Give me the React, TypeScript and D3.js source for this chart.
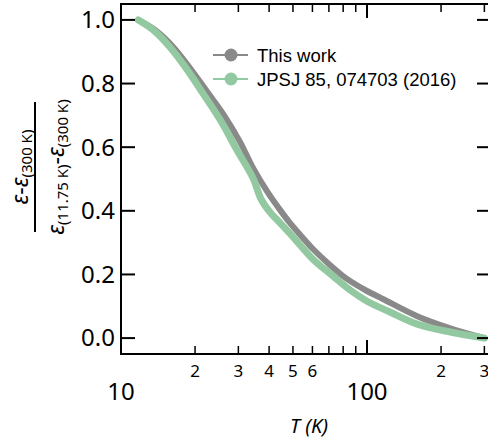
import React from "react";
import * as d3 from "d3";

const W = 488;
const H = 440;

// This work
const thisT = [11.75, 13.7, 16.3, 19.3, 22.6, 26.2, 30.5, 34.4, 39.2, 44.3, 48.6, 55.0, 60.3, 70.7, 82.9, 100, 116, 160, 218, 300];
const thisV = [1.0, 0.969, 0.915, 0.843, 0.77, 0.701, 0.616, 0.535, 0.462, 0.403, 0.362, 0.314, 0.28, 0.23, 0.186, 0.148, 0.123, 0.069, 0.031, 0.0];

// JPSJ 85, 074703 (2016)
const jpsjT = [11.75, 13.5, 15.8, 18.6, 21.5, 25.3, 29.6, 34.4, 37.1, 40.3, 44.3, 50.0, 60.3, 72.7, 85.3, 100, 124, 160, 218, 300];
const jpsjV = [1.0, 0.969, 0.915, 0.843, 0.77, 0.686, 0.591, 0.503, 0.437, 0.396, 0.362, 0.318, 0.248, 0.195, 0.151, 0.116, 0.082, 0.044, 0.019, 0.0];

const yTicks = [0, 0.2, 0.4, 0.6, 0.8, 1.0];
const xMajor = [10, 100];
const xMinor = [20, 30, 40, 50, 60, 70, 80, 90, 200, 300];
const xMinorLabeled = [20, 30, 40, 50, 60, 200, 300];

const seriesNames = ["This work", "JPSJ 85, 074703 (2016)"];
const colors = ["#898989", "#93c9a0"];

const left = 121, right = 489, top = 4, bottom = 354;

export default function App() {
  const x = d3.scaleLog().domain([10, 10 ** (1 + (right - left) / 246)]).range([left, right]);
  const y = d3.scaleLinear().domain([-0.05, 1.05]).range([bottom, top]);

  const line = d3
    .line<[number, number]>()
    .x((d) => x(d[0]))
    .y((d) => y(d[1]))
    .curve(d3.curveCatmullRom.alpha(0.5));

  const thisData = thisT.map((t, i) => [t, thisV[i]] as [number, number]);
  const jpsjData = jpsjT.map((t, i) => [t, jpsjV[i]] as [number, number]);

  const axisFont = "'Noto Sans', 'Open Sans', sans-serif";
  const legFont = "'Liberation Sans', Arial, sans-serif";

  return (
    <svg width={W} height={H} style={{ position: "absolute", left: 0, top: 0, background: "#fff" }}>
      {/* curves */}
      <path d={line(thisData) || ""} fill="none" stroke={colors[0]} strokeWidth={6} strokeLinecap="round" strokeLinejoin="round" />
      <path d={line(jpsjData) || ""} fill="none" stroke={colors[1]} strokeWidth={7} strokeLinecap="round" strokeLinejoin="round" />

      {/* frame */}
      <rect x={left} y={top} width={right - left} height={bottom - top} fill="none" stroke="#000" strokeWidth={2} />

      {/* y ticks */}
      {yTicks.map((v) => (
        <g key={v}>
          <line x1={left} x2={left + 14} y1={y(v)} y2={y(v)} stroke="#000" strokeWidth={2} />
          <line x1={right - 12} x2={right} y1={y(v)} y2={y(v)} stroke="#000" strokeWidth={2} />
          <text x={115} y={y(v)} dy="0.35em" textAnchor="end" fontFamily={axisFont} fontSize={24} fill="#000">
            {v.toFixed(1)}
          </text>
        </g>
      ))}

      {/* x ticks */}
      {xMajor.map((t) => (
        <g key={"M" + t}>
          <line x1={x(t)} x2={x(t)} y1={bottom} y2={bottom - 14} stroke="#000" strokeWidth={2} />
          <line x1={x(t)} x2={x(t)} y1={top} y2={top + 14} stroke="#000" strokeWidth={2} />
          <text x={x(t)} y={400} textAnchor="middle" fontFamily={axisFont} fontSize={24} fill="#000">
            {t}
          </text>
        </g>
      ))}
      {xMinor.map((t) => (
        <g key={"m" + t}>
          <line x1={x(t)} x2={x(t)} y1={bottom} y2={bottom - 8} stroke="#000" strokeWidth={1.5} />
          <line x1={x(t)} x2={x(t)} y1={top} y2={top + 8} stroke="#000" strokeWidth={1.5} />
        </g>
      ))}
      {xMinorLabeled.map((t) => (
        <text key={"ml" + t} x={x(t)} y={377} textAnchor="middle" fontFamily={axisFont} fontSize={17} fill="#000">
          {String(t).charAt(0)}
        </text>
      ))}

      {/* x label */}
      <text x={309} y={433} textAnchor="middle" fontFamily={axisFont} fontSize={20} fontStyle="italic" fill="#000">
        T (K)
      </text>

      {/* y label: fraction */}
      <g transform="translate(0,167) rotate(-90)" fontFamily={axisFont} fill="#000">
        <text x={0} y={28} textAnchor="middle" fontSize={23}>
          <tspan fontStyle="italic">ε</tspan>
          <tspan>-</tspan>
          <tspan fontStyle="italic">ε</tspan>
          <tspan fontSize={15} dy={4}>(300 K)</tspan>
        </text>
        <line x1={-65} x2={65} y1={35} y2={35} stroke="#000" strokeWidth={2} />
        <text x={0} y={64} textAnchor="middle" fontSize={23}>
          <tspan fontStyle="italic">ε</tspan>
          <tspan fontSize={15} dy={4}>(11.75 K)</tspan>
          <tspan dy={-4}>-</tspan>
          <tspan fontStyle="italic">ε</tspan>
          <tspan fontSize={15} dy={4}>(300 K)</tspan>
        </text>
      </g>

      {/* legend */}
      {seriesNames.map((name, i) => (
        <g key={name} transform={`translate(0, ${55 + i * 24})`}>
          <line x1={213} x2={248} y1={0} y2={0} stroke={colors[i]} strokeWidth={2} />
          <circle cx={231} cy={0} r={6.5} fill={colors[i]} />
          <text x={257} y={0} dy="0.36em" fontFamily={legFont} fontSize={18.5} fill="#000">
            {name}
          </text>
        </g>
      ))}
    </svg>
  );
}
